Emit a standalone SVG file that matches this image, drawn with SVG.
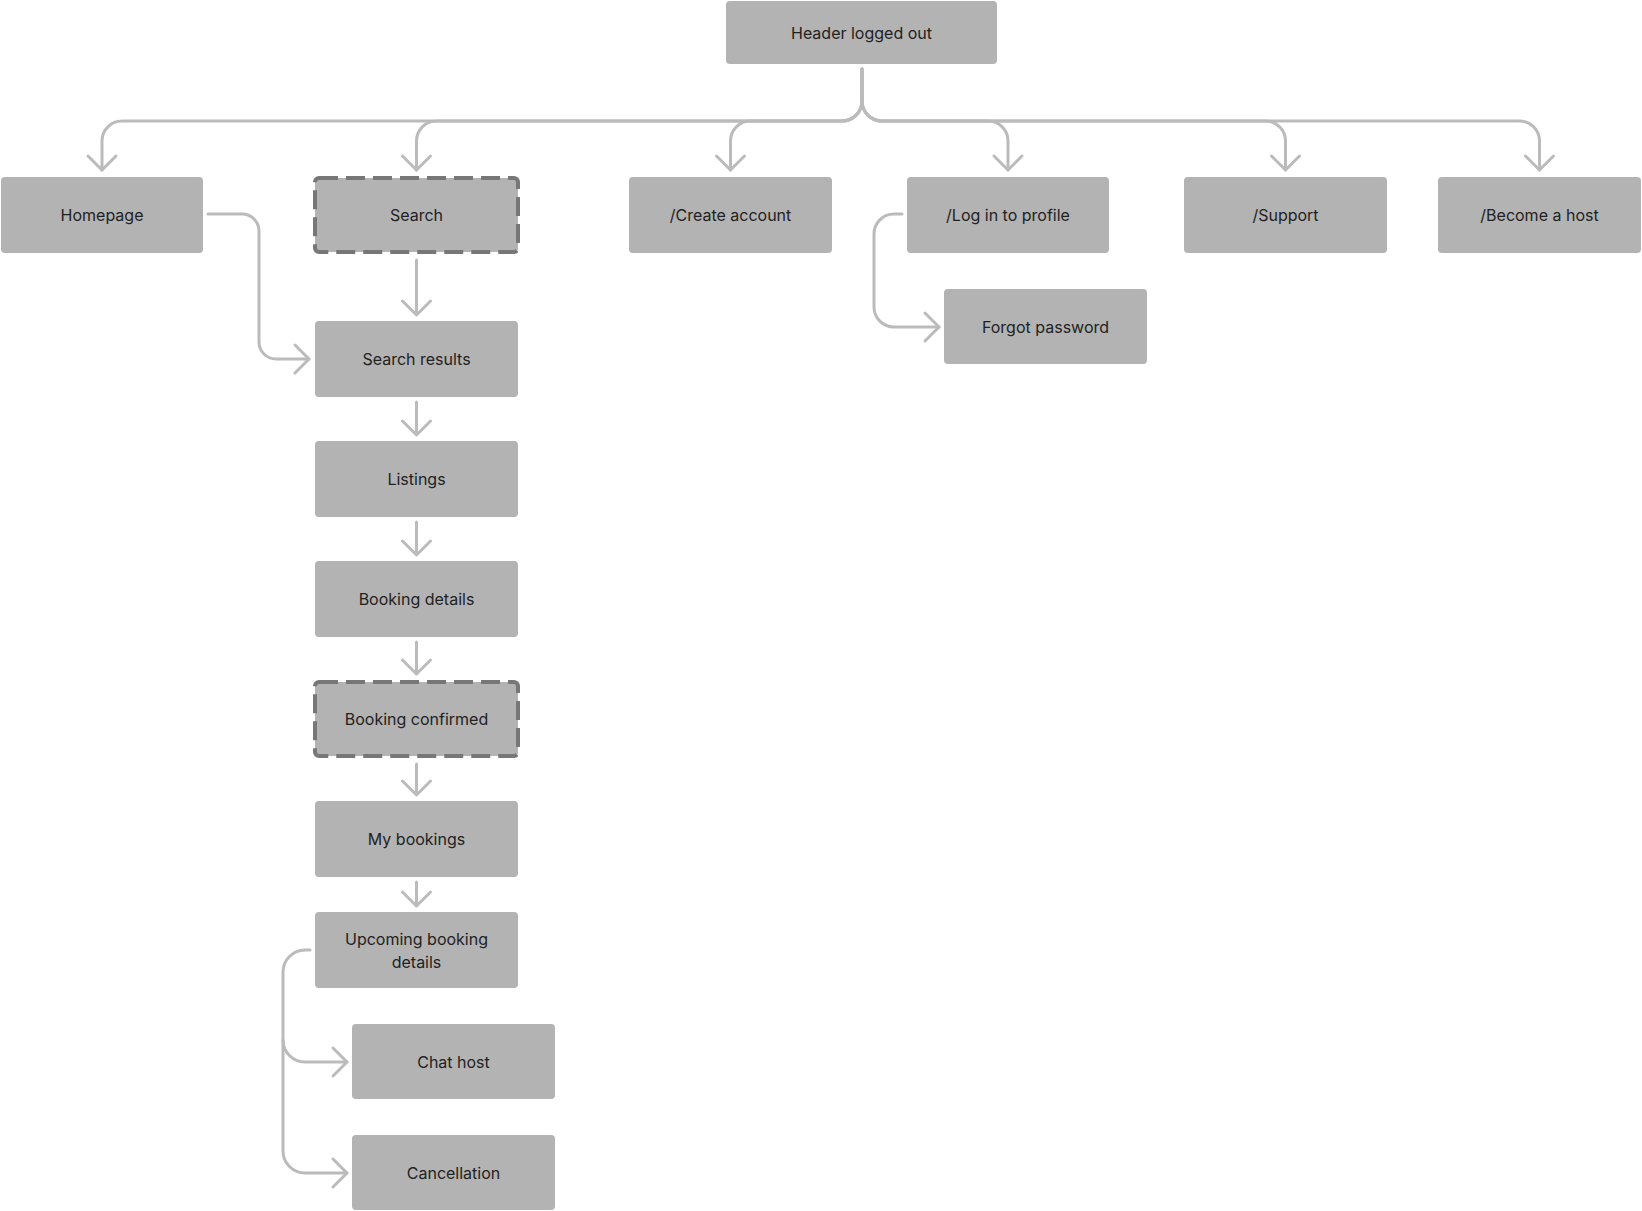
<svg xmlns="http://www.w3.org/2000/svg" width="1642" height="1211" viewBox="0 0 1642 1211">
<style>
.node rect{fill:#b3b3b3}
.node rect.dash{stroke:#777777;stroke-width:4;stroke-dasharray:19 8}
.node text{font-family:Inter,"Liberation Sans",sans-serif;font-size:16px;fill:#222222;text-anchor:middle}
.conn path{fill:none;stroke:#bbbbbb;stroke-width:3;stroke-linecap:round;stroke-linejoin:round}
</style>
<rect width="1642" height="1211" fill="#ffffff"/>
<g id="connectors" class="conn">
  <!-- header to top row -->
  <path d="M862,69 V101 A20,20 0 0 1 842,121 H122 A20,20 0 0 0 102,141 V170"/>
  <path d="M88,156 L102,170 L116,156"/>
  <path d="M862,69 V101 A20,20 0 0 1 842,121 H436.5 A20,20 0 0 0 416.5,141 V170"/>
  <path d="M402.5,156 L416.5,170 L430.5,156"/>
  <path d="M862,69 V101 A20,20 0 0 1 842,121 H750.5 A20,20 0 0 0 730.5,141 V170"/>
  <path d="M716.5,156 L730.5,170 L744.5,156"/>
  <path d="M862,69 V101 A20,20 0 0 0 882,121 H988 A20,20 0 0 1 1008,141 V170"/>
  <path d="M994,156 L1008,170 L1022,156"/>
  <path d="M862,69 V101 A20,20 0 0 0 882,121 H1265.5 A20,20 0 0 1 1285.5,141 V170"/>
  <path d="M1271.5,156 L1285.5,170 L1299.5,156"/>
  <path d="M862,69 V101 A20,20 0 0 0 882,121 H1519.5 A20,20 0 0 1 1539.5,141 V170"/>
  <path d="M1525.5,156 L1539.5,170 L1553.5,156"/>
  <!-- homepage to search results -->
  <path d="M208,214 H242 A17,17 0 0 1 259,231 V342 A17,17 0 0 0 276,359 H309"/>
  <path d="M295,345 L309,359 L295,373"/>
  <!-- log in to forgot password -->
  <path d="M902,214 H894 A20,20 0 0 0 874,234 V307 A20,20 0 0 0 894,327 H939"/>
  <path d="M925,313 L939,327 L925,341"/>
  <!-- column -->
  <path d="M416.5,260 V315 M402.5,301 L416.5,315 L430.5,301"/>
  <path d="M416.5,402 V435 M402.5,421 L416.5,435 L430.5,421"/>
  <path d="M416.5,522 V555 M402.5,541 L416.5,555 L430.5,541"/>
  <path d="M416.5,642 V674 M402.5,660 L416.5,674 L430.5,660"/>
  <path d="M416.5,764 V795 M402.5,781 L416.5,795 L430.5,781"/>
  <path d="M416.5,882 V906 M402.5,892 L416.5,906 L430.5,892"/>
  <!-- upcoming to chat host / cancellation -->
  <path d="M310,950 H305 A22,22 0 0 0 283,972 V1040 A22,22 0 0 0 305,1062 H347"/>
  <path d="M333,1048 L347,1062 L333,1076"/>
  <path d="M283,1040 V1151 A22,22 0 0 0 305,1173 H347"/>
  <path d="M333,1159 L347,1173 L333,1187"/>
</g>
<g id="header" class="node"><rect x="726" y="1" width="271" height="63" rx="4"/><text x="861.5" y="38.5">Header logged out</text></g>
<g id="homepage" class="node"><rect x="1" y="177" width="202" height="76" rx="4"/><text x="102" y="221">Homepage</text></g>
<g id="search" class="node"><rect class="dash" x="315" y="178" width="203" height="74" rx="4"/><text x="416.5" y="221">Search</text></g>
<g id="create-account" class="node"><rect x="629" y="177" width="203" height="76" rx="4"/><text x="730.5" y="221">/Create account</text></g>
<g id="log-in" class="node"><rect x="907" y="177" width="202" height="76" rx="4"/><text x="1008" y="221">/Log in to profile</text></g>
<g id="support" class="node"><rect x="1184" y="177" width="203" height="76" rx="4"/><text x="1285.5" y="221">/Support</text></g>
<g id="become-host" class="node"><rect x="1438" y="177" width="203" height="76" rx="4"/><text x="1539.5" y="221">/Become a host</text></g>
<g id="forgot-password" class="node"><rect x="944" y="289" width="203" height="75" rx="4"/><text x="1045.5" y="332.5">Forgot password</text></g>
<g id="search-results" class="node"><rect x="315" y="321" width="203" height="76" rx="4"/><text x="416.5" y="365">Search results</text></g>
<g id="listings" class="node"><rect x="315" y="441" width="203" height="76" rx="4"/><text x="416.5" y="485">Listings</text></g>
<g id="booking-details" class="node"><rect x="315" y="561" width="203" height="76" rx="4"/><text x="416.5" y="605">Booking details</text></g>
<g id="booking-confirmed" class="node"><rect class="dash" x="315" y="682" width="203" height="74" rx="4"/><text x="416.5" y="725">Booking confirmed</text></g>
<g id="my-bookings" class="node"><rect x="315" y="801" width="203" height="76" rx="4"/><text x="416.5" y="845">My bookings</text></g>
<g id="upcoming-booking-details" class="node"><rect x="315" y="912" width="203" height="76" rx="4"/><text x="416.5" y="944.5">Upcoming booking</text><text x="416.5" y="967.5">details</text></g>
<g id="chat-host" class="node"><rect x="352" y="1024" width="203" height="75" rx="4"/><text x="453.5" y="1067.5">Chat host</text></g>
<g id="cancellation" class="node"><rect x="352" y="1135" width="203" height="75" rx="4"/><text x="453.5" y="1178.5">Cancellation</text></g>
</svg>
